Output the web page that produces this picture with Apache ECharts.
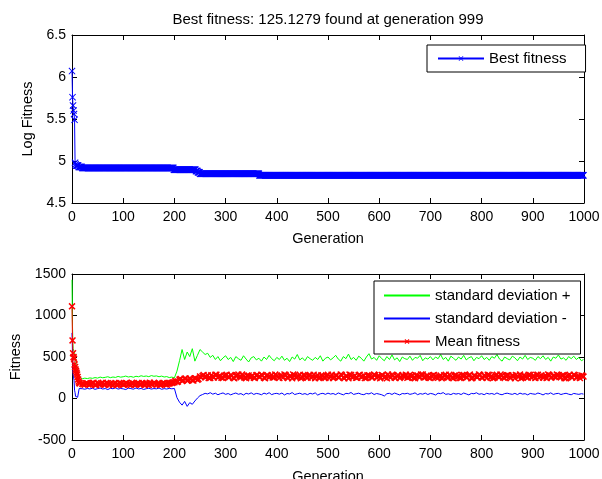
<!DOCTYPE html>
<html>
<head>
<meta charset="utf-8">
<script src="https://cdn.jsdelivr.net/npm/echarts@6/dist/echarts.min.js"></script>
<style>html,body{margin:0;padding:0;background:#fff}#c{width:602px;height:479px}</style>
</head>
<body>
<div id="c"></div>
<script>
// ---------- DATA ----------
const titleText = 'Best fitness: 125.1279 found at generation 999';
const xTicks = [0, 1000, 100];            // min, max, interval
const topYTicks = [4.5, 6.5, 0.5];
const botYTicks = [-500, 1500, 500];

// Best fitness (log) : generation where the value changes, value held until next change
const bestSteps = [[0,6.07],[1,5.76],[2,5.66],[3,5.60],[4,5.56],[5,5.49],[6,4.98],[7,4.96],[8,4.945],[13,4.93],[20,4.918],[199,4.897],[242,4.88],[246,4.865],[250,4.849],[366,4.829]];

// sampled generations for the population statistics: 0..15, 20..995 step 5, 999
const earlyGens = [0,1,2,3,4,5,6,7,8,9,10,11,12,13,14,15];
const sampleStep = 5, sampleStart = 20, sampleEnd = 995, lastGen = 999;
// extra mean-fitness samples at 22..997 step 5
const extraStart = 22, extraEnd = 997;

const meanEarly  = [1110,700,545,500,480,410,380,350,330,310,290,260,230,205,190,180];
const sdPlusEarly  = [1430,860,600,580,570,545,520,480,420,380,340,300,280,262,250,242];
const sdMinusEarly = [790,540,300,260,220,100,70,25,10,5,8,15,12,20,120,125];

const meanMain = [
 178,166,184,170,187,163,181,172,189,165,183,174,162,186,171,180,167,188,175,164,182,170,187,168,179,185,163,176,190,169,181,173,186,166,180,188,195,
 200,228,210,238,214,242,220,245,226,265,
 272,255,281,248,266,285,252,270,246,279,
 261,283,250,274,288,256,268,245,277,262,
 251,280,263,286,249,271,258,284,254,275,
 247,273,289,257,268,244,279,260,286,253,
 276,250,283,265,245,281,258,272,248,287,
 264,246,278,255,290,252,270,243,282,261,
 249,284,262,275,247,280,256,288,251,269,
 283,258,244,274,287,253,267,248,279,262,
 250,285,271,245,278,259,289,255,273,247,
 281,263,249,276,257,287,252,270,244,284,
 266,248,282,256,277,243,273,261,289,252,
 279,246,283,264,251,286,258,274,247,280,
 260,277,245,271,288,254,268,249,282,263,
 246,285,266,253,276,290,250,272,259,281,
 255,284,245,274,262,287,251,269,278,
 264];

const meanExtra = [
 172,185,168,179,190,164,176,183,170,188,166,181,174,162,187,178,169,184,173,189,165,180,171,186,163,177,191,168,182,175,164,186,172,179,188,192,
 212,205,236,219,240,224,232,217,241,235,
 257,283,264,246,279,252,287,268,249,274,
 285,255,271,243,280,262,289,250,276,258,
 270,247,284,259,277,245,281,266,253,288,
 262,278,250,284,247,271,290,256,269,244,
 283,260,274,251,287,265,246,279,257,272,
 248,286,261,277,253,282,244,269,288,258,
 275,250,285,263,246,279,270,254,281,266,
 244,277,259,289,252,273,248,284,261,270,
 287,255,268,247,280,262,290,253,275,249,
 272,284,256,266,243,281,259,286,250,277,
 263,248,282,271,255,288,246,275,260,283,
 251,270,286,257,245,279,264,289,253,274,
 280,247,267,284,259,243,276,262,287,254,
 271,286,250,278,264,246,283,257,273,288,
 258,276,245,269,285,252,280,263,247,274];

const sdPlusMain = [
 238,245,240,248,243,252,246,258,250,255,262,251,259,254,266,257,262,270,259,265,256,268,262,274,266,271,263,276,268,272,262,270,259,264,252,258,248,
 330,455,590,470,560,505,600,450,520,590,
 560,530,545,495,520,470,505,455,490,515,
 470,495,445,505,480,460,515,475,440,490,
 505,465,485,450,500,470,520,480,455,495,
 470,510,460,485,445,500,475,530,465,490,
 455,505,480,460,495,470,515,450,485,500,
 465,490,520,475,450,505,480,535,470,495,
 460,510,485,450,500,540,475,495,460,515,
 480,455,505,470,525,465,490,445,500,480,
 470,510,460,495,485,520,455,490,475,505,
 465,500,480,530,470,495,450,510,485,460,
 500,475,520,465,490,505,455,495,480,515,
 470,495,460,505,485,530,475,450,500,480,
 465,510,490,455,500,475,520,470,495,485,
 460,505,480,515,470,495,450,500,485,525,
 475,490,460,505,480,510,470,495,455,
 470];

const sdMinusMain = [
 118,112,121,115,124,110,119,126,114,120,108,123,117,129,113,121,116,108,125,119,112,127,115,121,109,118,124,113,120,116,126,111,119,114,122,117,121,
 10,-45,-80,-35,-95,-50,-70,-30,5,35,
 48,62,55,70,52,64,45,58,67,50,
 60,44,57,66,51,59,42,63,54,68,
 49,61,56,45,65,53,70,47,58,62,
 52,66,43,60,55,71,48,57,64,50,
 59,46,63,54,68,41,57,62,50,65,
 53,60,47,67,55,44,62,58,72,49,
 57,64,51,46,61,55,69,48,60,53,
 45,30,58,62,49,66,54,43,60,56,
 63,50,57,68,46,59,52,65,48,61,
 55,42,64,58,71,50,56,47,62,53,
 60,48,66,55,44,61,57,69,51,58,
 46,63,54,60,49,67,52,45,59,64,
 56,50,62,47,65,53,58,44,61,55,
 51,66,57,43,60,54,68,49,58,62,
 48,57,63,52,45,61,55,50,58,
 53];

// ---------- BUILD ----------
const gens = earlyGens.slice();
for (let g = sampleStart; g <= sampleEnd; g += sampleStep) gens.push(g);
gens.push(lastGen);
const gensExtra = [];
for (let g = extraStart; g <= extraEnd; g += sampleStep) gensExtra.push(g);

function zip(early, main) {
  const v = early.concat(main);
  return gens.map((g, i) => [g, v[i]]);
}
const meanData = zip(meanEarly, meanMain)
  .concat(gensExtra.map((g, i) => [g, meanExtra[i]]))
  .sort((a, b) => a[0] - b[0]);
const plusData = zip(sdPlusEarly, sdPlusMain);
const minusData = zip(sdMinusEarly, sdMinusMain);

const bestData = [];
let k = 0;
for (let g = 0; g <= lastGen; g++) {
  while (k + 1 < bestSteps.length && bestSteps[k + 1][0] <= g) k++;
  bestData.push([g, bestSteps[k][1]]);
}

const FONT = 'Liberation Sans, Arial, sans-serif';
const X_SYMBOL = 'path://M0,1L1,0L5,4L9,0L10,1L6,5L10,9L9,10L5,6L1,10L0,9L4,5Z';
const X_SYMBOL_B = 'path://M0,1.5L1.5,0L5,3.5L8.5,0L10,1.5L6.5,5L10,8.5L8.5,10L5,6.5L1.5,10L0,8.5L3.5,5Z';
const plain = v => String(v);

function xAxisDef(grid, pos, show, name, gap) {
  return {
    type: 'value', gridIndex: grid, position: pos, min: xTicks[0], max: xTicks[1], interval: xTicks[2],
    name: show ? name : '', nameLocation: 'middle', nameGap: gap,
    nameTextStyle: { color: '#000', fontSize: 14.5, fontFamily: FONT },
    axisLine: { show: true, onZero: false, lineStyle: { color: '#000', width: 1 } },
    axisTick: { show: true, inside: true, length: 5, lineStyle: { color: '#000' } },
    axisLabel: { show: show, color: '#000', fontSize: 14, fontFamily: FONT, margin: 7, formatter: plain },
    splitLine: { show: false }
  };
}
function yAxisDef(grid, pos, show, ticks, name, gap) {
  return {
    type: 'value', gridIndex: grid, position: pos, min: ticks[0], max: ticks[1], interval: ticks[2],
    name: show ? name : '', nameLocation: 'middle', nameGap: gap,
    nameTextStyle: { color: '#000', fontSize: 14.5, fontFamily: FONT },
    axisLine: { show: true, onZero: false, lineStyle: { color: '#000', width: 1 } },
    axisTick: { show: true, inside: true, length: 5, lineStyle: { color: '#000' } },
    axisLabel: { show: show, color: '#000', fontSize: 14, fontFamily: FONT, margin: 6, formatter: plain },
    splitLine: { show: false }
  };
}

const chart = echarts.init(document.getElementById('c'), null, { renderer: 'canvas' });
chart.setOption({
  animation: false,
  backgroundColor: '#fff',
  textStyle: { fontFamily: FONT },
  graphic: [{
    type: 'text', x: 328, y: 20,
    style: { text: titleText, fill: '#000', fontSize: 15, fontFamily: FONT, textAlign: 'center', textVerticalAlign: 'middle' }
  }],
  grid: [
    { left: 72, right: 18, top: 35, height: 168, outerBoundsMode: 'none', containLabel: false },
    { left: 72, right: 18, top: 274, height: 166, outerBoundsMode: 'none', containLabel: false }
  ],
  xAxis: [
    xAxisDef(0, 'bottom', true, 'Generation', 28),
    xAxisDef(0, 'top', false, '', 0),
    xAxisDef(1, 'bottom', true, 'Generation', 29),
    xAxisDef(1, 'top', false, '', 0)
  ],
  yAxis: [
    yAxisDef(0, 'left', true, topYTicks, 'Log Fitness', 37),
    yAxisDef(0, 'right', false, topYTicks, '', 0),
    yAxisDef(1, 'left', true, botYTicks, 'Fitness', 49),
    yAxisDef(1, 'right', false, botYTicks, '', 0)
  ],
  legend: [
    {
      data: ['Best fitness'], left: 427, top: 45, orient: 'vertical',
      padding: [6, 19, 6, 10], itemWidth: 46, itemHeight: 6,
      borderColor: '#000', borderWidth: 1, borderRadius: 0, backgroundColor: '#fff',
      selectedMode: false, textStyle: { color: '#000', fontSize: 15, fontFamily: FONT }
    },
    {
      data: [
        { name: 'standard deviation +', itemStyle: { opacity: 0 } },
        { name: 'standard deviation -', itemStyle: { opacity: 0 } },
        'Mean fitness'
      ],
      left: 374, top: 281, orient: 'vertical',
      padding: [7, 10, 5, 9], itemWidth: 46, itemHeight: 6, itemGap: 8,
      borderColor: '#000', borderWidth: 1, borderRadius: 0, backgroundColor: '#fff',
      selectedMode: false, textStyle: { color: '#000', fontSize: 15, fontFamily: FONT }
    }
  ],
  series: [
    {
      name: 'Best fitness', type: 'line', xAxisIndex: 0, yAxisIndex: 0, data: bestData,
      color: '#0000ff', lineStyle: { color: '#0000ff', width: 1 },
      symbol: X_SYMBOL, symbolSize: 7, showAllSymbol: true, clip: false,
      itemStyle: { color: '#0000ff' }
    },
    {
      name: 'standard deviation +', type: 'line', xAxisIndex: 2, yAxisIndex: 2, data: plusData,
      color: '#00ff00', lineStyle: { color: '#00ff00', width: 1 }, symbol: 'none', clip: false
    },
    {
      name: 'standard deviation -', type: 'line', xAxisIndex: 2, yAxisIndex: 2, data: minusData,
      color: '#0000ff', lineStyle: { color: '#0000ff', width: 1 }, symbol: 'none', clip: false
    },
    {
      name: 'Mean fitness', type: 'line', xAxisIndex: 2, yAxisIndex: 2, data: meanData,
      color: '#ff0000', lineStyle: { color: '#ff0000', width: 1 },
      symbol: X_SYMBOL_B, symbolSize: 7, showAllSymbol: true, clip: false,
      itemStyle: { color: '#ff0000' }
    }
  ]
});
</script>
</body>
</html>
